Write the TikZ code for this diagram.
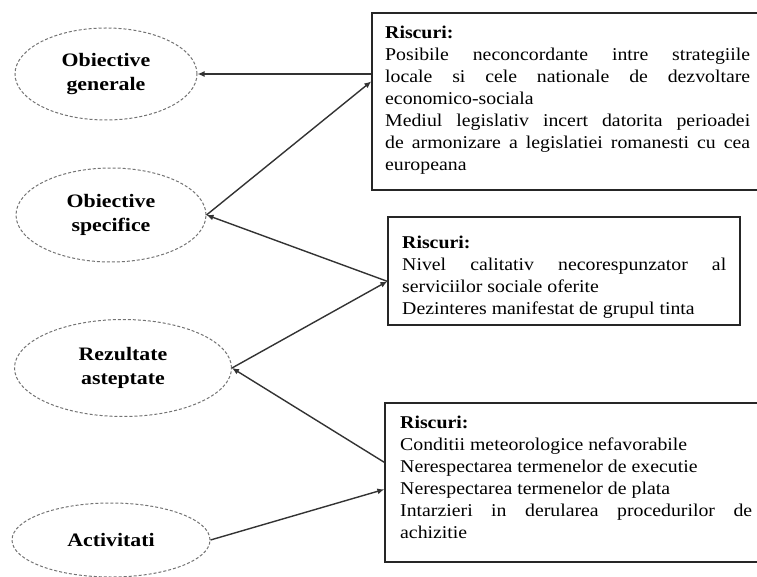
\documentclass[tikz,border=0pt]{standalone}
\usepackage{fontspec}
\setmainfont[FakeStretch=1.1]{Liberation Serif}
\newfontfamily\lblfont[FakeStretch=1.15]{Liberation Serif}
\usetikzlibrary{arrows.meta,shapes.geometric,calc}
\setlength\parindent{0pt}
\begin{document}
\begin{tikzpicture}[x=1pt,y=-1pt,
  oval/.style={draw=black!55, densely dashed, line width=1pt, ellipse, inner sep=0pt,
    font=\lblfont\bfseries\fontsize{19}{24}\selectfont, align=center},
  riskbox/.style={draw=black!85, line width=1.3pt, rectangle, inner sep=0pt},
  risktext/.style={anchor=north west, inner sep=0pt, align=justify,
    font=\fontsize{18}{22}\selectfont},
  conn/.style={draw=black!80, line width=1.4pt},
  tip/.style={-{Latex[length=7pt,width=6pt]}}
]
\useasboundingbox (0,0) rectangle (757,577);

% ellipses
\node[oval, minimum width=182pt, minimum height=92pt] (ogen) at (106,74) {Obiective\\generale};
\node[oval, minimum width=190pt, minimum height=94pt] (ospec) at (111,215) {Obiective\\specifice};
\node[oval, minimum width=217pt, minimum height=97pt] (rez) at (123,368) {Rezultate\\asteptate};
\node[oval, minimum width=198pt, minimum height=74pt] (act) at (111,540) {Activitati};

% risk boxes
\node[riskbox, minimum width=398pt, minimum height=177pt] (box1) at (571,101.5) {};
\node[riskbox, minimum width=352pt, minimum height=108pt] (box2) at (564,271) {};
\node[riskbox, minimum width=385pt, minimum height=159pt] (box3) at (577.5,482.5) {};

\node[risktext, text width=365pt] (t1) at (385,26) {\textbf{Riscuri:}\\
Posibile neconcordante intre strategiile\linebreak locale si cele nationale de dezvoltare\linebreak economico-sociala\par
Mediul legislativ incert datorita perioadei\linebreak de armonizare a legislatiei romanesti cu cea\linebreak europeana};

\node[risktext, text width=324pt] (t2) at (402,236) {\textbf{Riscuri:}\\
Nivel calitativ necorespunzator al\linebreak serviciilor sociale oferite\par
Dezinteres manifestat de grupul tinta};

\node[risktext, text width=352pt] (t3) at (400,416) {\textbf{Riscuri:}\\
Conditii meteorologice nefavorabile\\
Nerespectarea termenelor de executie\\
Nerespectarea termenelor de plata\\
Intarzieri in derularea procedurilor de\linebreak achizitie};

% connectors
\coordinate (b1in) at ($(box1.north west)+(0,69)$);
\coordinate (b2in) at ($(box2.north west)+(0,65)$);
\coordinate (b3out) at ($(box3.north west)+(0,60)$);
\coordinate (b3in) at ($(box3.north west)+(0,87)$);

\draw[conn,tip] (box1.west |- ogen.east) -- (ogen.east);
\draw[conn,tip] (ospec.east) -- (b1in);
\draw[conn,tip] (b2in) -- (ospec.east);
\draw[conn,tip] (rez.east) -- (b2in);
\draw[conn,tip] (b3out) -- (rez.east);
\draw[conn,tip] (act.east) -- (b3in);
\end{tikzpicture}
\end{document}
